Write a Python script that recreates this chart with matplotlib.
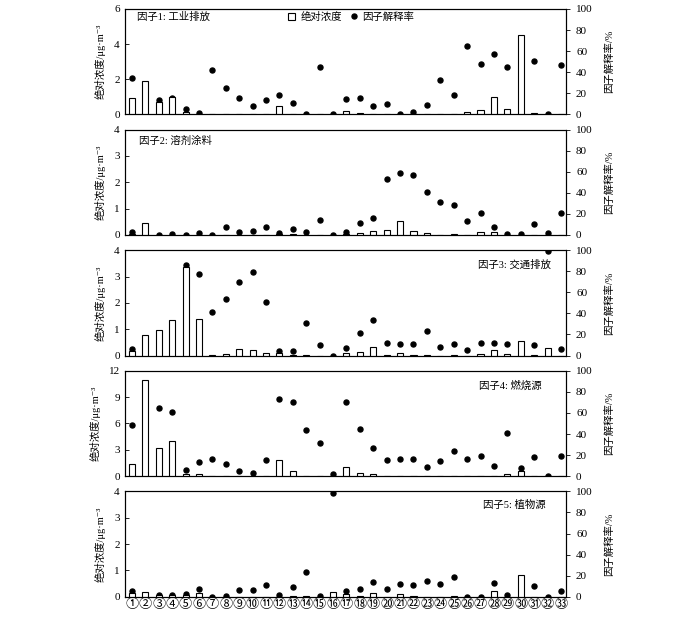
import matplotlib
matplotlib.use("Agg")
import matplotlib.pyplot as plt
import numpy as np

plt.rcParams['font.family'] = ['Liberation Serif', 'Noto Sans CJK SC', 'DejaVu Sans']
plt.rcParams['font.size'] = 8
plt.rcParams['axes.unicode_minus'] = False

# ==========================================================
# DADOS
# ==========================================================
sites = list(range(1, 34))
site_labels = [chr(0x2460 + i - 1) if i <= 20 else chr(0x3251 + i - 21) for i in sites]

factor_names = ["因子1: 工业排放", "因子2: 溶剂涂料", "因子3: 交通排放",
                "因子4: 燃烧源", "因子5: 植物源"]

conc_f1 = [0.95, 1.9, 0.7, 1.0, 0.15, 0.02, 0, 0.02, 0.02, 0, 0, 0.48, 0.05, 0, 0.02,
           0, 0.2, 0.07, 0.05, 0.02, 0, 0, 0, 0, 0.02, 0.13, 0.26, 1.0, 0.28, 4.5,
           0.1, 0, 0.05]
rate_f1 = [35, 13, 14, 16, 5, 1, 42, 25, 16, 8, 14, 18, 11, 0, 44.5,
           0, 15, 16, 8, 10, 0, 2, 9, 33, 18, 64.5, 47.5, 57, 44.5, 70,
           50.5, 0, 46.5]

conc_f2 = [0.03, 0.47, 0, 0, 0, 0, 0, 0, 0, 0, 0, 0.02, 0.02, 0, 0,
           0.01, 0.03, 0.07, 0.15, 0.18, 0.52, 0.17, 0.07, 0.01, 0.02, 0.01, 0.12, 0.12, 0,
           0, 0, 0, 0]
rate_f2 = [2.5, 4, 0, 0.6, 0, 1.5, 0, 7.5, 3, 4, 8, 2, 5.5, 3, 14,
           0, 2.5, 11, 16.5, 53.5, 59, 56.5, 41, 31, 28, 12.8, 20.6, 7.2, 0.6,
           0.6, 10, 2, 21]

conc_f3 = [0.18, 0.79, 0.97, 1.35, 3.35, 1.4, 0.02, 0.06, 0.25, 0.22, 0.11, 0.09, 0.03, 0.04, 0,
           0, 0.11, 0.15, 0.34, 0.02, 0.09, 0.02, 0.02, 0, 0.02, 0, 0.05, 0.2, 0.07,
           0.55, 0.02, 0.28, 0]
rate_f3 = [6.3, 5.4, 19, 21, 86, 77, 41, 54, 70, 79, 51, 4, 4, 31, 10,
           0, 7.6, 21, 34, 11.5, 10.8, 11.4, 23, 8.2, 10.8, 5.7, 12, 12, 10.8,
           8.9, 10, 99, 6.3]

conc_f4 = [1.36, 10.9, 3.2, 4.0, 0.23, 0.23, 0, 0, 0, 0, 0, 1.82, 0.58, 0, 0,
           0, 1.08, 0.35, 0.3, 0, 0.05, 0, 0, 0, 0, 0, 0.03, 0.05, 0.27,
           0.55, 0, 0, 0]
rate_f4 = [49, 76.5, 64.5, 61, 6, 13, 16, 12, 5, 3, 15, 73, 70, 44, 31.6,
           2, 70, 45, 27, 15.5, 16.3, 16, 8.8, 14, 23.5, 16, 19, 10, 41.4,
           7.8, 18, 0, 19]

conc_f5 = [0.16, 0.19, 0.05, 0.05, 0.07, 0.15, 0, 0, 0, 0, 0, 0, 0.03, 0.02, 0,
           0.19, 0.1, 0.03, 0.14, 0, 0.1, 0.02, 0, 0, 0.02, 0, 0, 0.2, 0,
           0.82, 0, 0, 0]
rate_f5 = [5.7, 1.2, 1.5, 1.5, 2.7, 7.2, 0, 1, 6.3, 6.3, 11, 1.8, 9.6, 23.4, 0.3,
           98, 5.7, 6.9, 14, 7.6, 12, 11.4, 15, 12, 18.7, 0, 0, 12.6, 1.8,
           12, 10, 0, 5]

concs = [conc_f1, conc_f2, conc_f3, conc_f4, conc_f5]
rates = [rate_f1, rate_f2, rate_f3, rate_f4, rate_f5]
left_max = [6, 4, 4, 12, 4]
left_ticks = [[0, 2, 4, 6], [0, 1, 2, 3, 4], [0, 1, 2, 3, 4],
              [0, 3, 6, 9, 12], [0, 1, 2, 3, 4]]

# posição do título de cada painel (x, y, alinhamento)
title_pos = [(0.027, 0.93, "left"), (0.03, 0.89, "left"), (0.965, 0.865, "right"),
             (0.945, 0.86, "right"), (0.952, 0.87, "right")]

# ==========================================================
# FIGURA
# ==========================================================
fig = plt.figure(figsize=(7, 6.2), dpi=100)

left, width = 0.179, 0.630
top0, h, gap = 0.9855, 0.170, 0.0245

for i in range(5):
    bottom = top0 - h - i * (h + gap)
    ax = fig.add_axes([left, bottom, width, h])
    ax2 = ax.twinx()

    ax.bar(sites, concs[i], width=0.45, facecolor="white",
           edgecolor="black", linewidth=0.8, zorder=2, label="绝对浓度")
    ax2.plot(sites, rates[i], "o", color="black", markersize=3.6,
             zorder=3, label="因子解释率")

    ax.set_xlim(0.5, 33.4)
    ax.set_ylim(0, left_max[i])
    ax.set_yticks(left_ticks[i])
    ax2.set_ylim(0, 100)
    ax2.set_yticks([0, 20, 40, 60, 80, 100])

    ax.set_zorder(ax2.get_zorder() + 1)
    ax.patch.set_visible(False)

    ax.tick_params(axis="y", direction="in", length=3, width=0.6, pad=4)
    ax2.tick_params(axis="y", direction="out", length=3, width=0.6, pad=4)
    ax.tick_params(axis="x", length=0)

    if i == 4:
        ax.set_xticks(sites)
        ax.set_xticklabels(site_labels, fontsize=9.5,
                           family=["Noto Sans CJK SC", "DejaVu Sans"])
        ax.tick_params(axis="x", pad=1)
    else:
        ax.set_xticks([])

    for sp in list(ax.spines.values()) + list(ax2.spines.values()):
        sp.set_linewidth(0.8)

    ax.set_ylabel("绝对浓度/μg·m⁻³", labelpad=6, fontsize=7.5)
    ax2.set_ylabel("因子解释率/%", labelpad=8, fontsize=7.5)

    tx, ty, ha = title_pos[i]
    ax.text(tx, ty, factor_names[i], transform=ax.transAxes,
            ha=ha, va="center", fontsize=7.5)

    if i == 0:
        h1, l1 = ax.get_legend_handles_labels()
        h2, l2 = ax2.get_legend_handles_labels()
        ax.legend(h1 + h2, l1 + l2, loc="center right", bbox_to_anchor=(0.665, 0.925),
                  ncol=2, frameon=False, fontsize=7.5, handlelength=0.7,
                  handletextpad=0.5, columnspacing=0.8, borderaxespad=0)

fig.savefig("out.png", dpi=100)
